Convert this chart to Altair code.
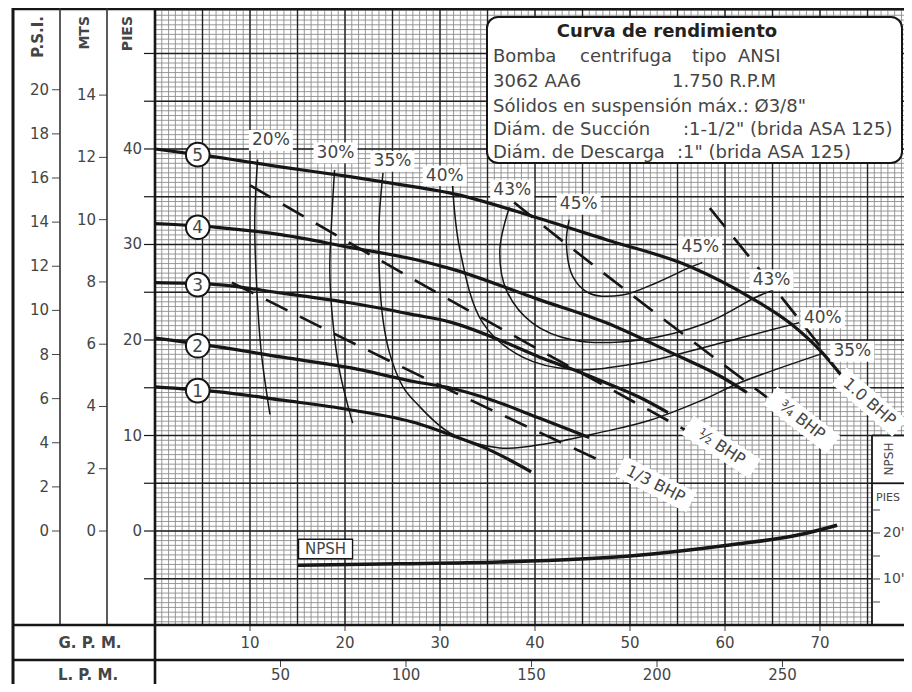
import altair as alt
import numpy as np
import pandas as pd

# ---------------- data ----------------
# Head curves (impeller 1..5): flow in GPM, head in feet
h1_gpm = [0, 6.5, 13.4, 20.5, 27.5, 31.0, 35.2, 39.6]
h1_ft = [15.1, 14.6, 13.7, 12.7, 11.3, 10.1, 8.5, 6.2]
h2_gpm = [0, 6.5, 13.4, 20.5, 27.5, 31.0, 35.5, 40.5, 45.7]
h2_ft = [20.2, 19.3, 18.2, 17.1, 15.6, 15.0, 13.7, 11.8, 9.8]
h3_gpm = [0, 6.5, 13.4, 20.5, 27.5, 31.0, 37.0, 40.5, 44.0, 47.5, 51.0, 54.0]
h3_ft = [26.0, 25.8, 24.9, 23.9, 22.6, 21.9, 19.7, 18.2, 16.9, 15.5, 14.0, 12.4]
h4_gpm = [0, 6.5, 13.4, 20.5, 27.5, 31.0, 40.5, 47.5, 54.5, 59.7, 62.3]
h4_ft = [32.2, 31.8, 31.0, 29.7, 28.4, 27.5, 24.2, 21.8, 18.6, 16.1, 14.5]
h5_gpm = [0, 6.1, 13.4, 20.5, 27.5, 31.0, 40.2, 47.5, 56.3, 62.6, 66.8, 70.3, 72.4]
h5_ft = [40.0, 39.2, 38.1, 37.1, 36.0, 35.4, 32.8, 30.5, 27.7, 24.5, 21.8, 18.6, 16.1]

curve_ids = ["1", "2", "3", "4", "5"]
marker_gpm = [4.5, 4.5, 4.5, 4.5, 4.5]
marker_ft = [14.7, 19.4, 25.8, 31.8, 39.4]

# Efficiency iso-lines
e20_gpm = [10.8, 10.5, 10.7, 11.2, 12.1]
e20_ft = [38.9, 32.6, 25.6, 18.6, 12.2]
e30_gpm = [18.9, 18.6, 18.4, 18.7, 19.4, 20.8]
e30_ft = [37.8, 32.6, 27.3, 22.1, 16.9, 11.3]
e35_gpm = [24.0, 23.6, 23.6, 24.0, 24.7, 26.1, 27.5, 31.0, 36.3, 41.5, 46.8, 52.1, 57.6, 61.5, 70.3]
e35_ft = [37.5, 32.6, 27.3, 22.1, 18.6, 15.1, 13.4, 10.3, 8.7, 9.2, 10.3, 11.6, 13.7, 15.5, 18.6]
e40_gpm = [31.3, 32.1, 34.5, 38.7, 44.0, 51.0, 58.1, 65.0, 67.8]
e40_ft = [36.4, 29.4, 21.8, 18.2, 16.9, 17.6, 19.3, 21.1, 21.8]
e43_gpm = [37.3, 36.3, 37.0, 39.7, 44.0, 51.0, 58.1, 63.3, 65.0]
e43_ft = [33.9, 29.4, 25.2, 21.8, 20.0, 20.0, 21.8, 24.5, 25.2]
e45_gpm = [43.6, 43.3, 44.0, 45.7, 49.2, 52.8, 56.3, 57.6]
e45_ft = [32.6, 30.2, 26.6, 24.9, 24.7, 26.0, 27.6, 28.1]

pct_text = ["20%", "30%", "35%", "40%", "43%", "45%", "45%", "43%", "40%", "35%"]
pct_gpm = [12.2, 19.0, 25.0, 30.5, 37.6, 44.6, 57.4, 64.9, 70.3, 73.4]
pct_ft = [40.9, 39.6, 38.7, 37.2, 35.7, 34.2, 29.7, 26.3, 22.3, 18.8]

# Brake horse-power lines
b13_gpm = [8.1, 30.3, 46.8]
b13_ft = [26.0, 15.1, 7.4]
b12_gpm = [10.0, 29.6, 56.5]
b12_ft = [36.2, 25.0, 10.2]
b34_gpm = [37.8, 41.2, 64.4]
b34_ft = [34.4, 31.7, 14.0]
b10_gpm = [58.4, 62.8, 70.3]
b10_ft = [33.8, 28.4, 19.0]

bhp_text = ["1/3 BHP", "\u00bd BHP", "\u00be BHP", "1.0 BHP"]
bhp_gpm = [52.7, 59.6, 68.1, 75.2]
bhp_ft = [4.9, 8.8, 11.6, 13.5]
bhp_angle = [27, 33, 38, 41]

# NPSH required (feet, right-hand scale)
npsh_gpm = [15.0, 25.7, 36.3, 50.0, 60.5, 67.8, 71.8]
npsh_ft = [13.0, 13.3, 13.7, 15.0, 17.4, 19.6, 21.7]

# Axis tick values
psi_ticks = [0, 2, 4, 6, 8, 10, 12, 14, 16, 18, 20]
mts_ticks = [0, 2, 4, 6, 8, 10, 12, 14]
pies_labels = [0, 10, 20, 30, 40]
pies_ticks = [-5, 0, 5, 10, 15, 20, 25, 30, 35, 40, 45, 50]
gpm_ticks = [10, 20, 30, 40, 50, 60, 70]
lpm_ticks = [50, 100, 150, 200, 250]
npsh_ticks = [5, 10, 15, 20, 25]
npsh_labels = [10, 20]

# ---------------- layout / style ----------------
W, H = 749, 617
XMAX = 78.84
YLO, YHI = -9.84, 54.76
XS = alt.Scale(domain=[0, XMAX], nice=False, zero=False)
YS = alt.Scale(domain=[YLO, YHI], nice=False, zero=False)
YN = alt.Scale(domain=[0, 134.13], nice=False, zero=False)
FONT = "DejaVu Sans"
INK = "#161616"
TXT = "#454545"


def X(f):
    return alt.X(f, type="quantitative", scale=XS, axis=None)


def Y(f):
    return alt.Y(f, type="quantitative", scale=YS, axis=None)


def YNP(f):
    return alt.Y(f, type="quantitative", scale=YN, axis=None)


one = pd.DataFrame({"k": [0]})


def hline(y, x1, x2, w, color=INK):
    return alt.Chart(one).mark_rule(color=color, strokeWidth=w).encode(
        x=alt.value(x1), x2=alt.value(x2), y=alt.value(y))


def vline(x, y1, y2, w, color=INK):
    return alt.Chart(one).mark_rule(color=color, strokeWidth=w).encode(
        x=alt.value(x), y=alt.value(y1), y2=alt.value(y2))


def label(text, x, y, size=18, weight="normal", align="left", angle=0, color=TXT):
    return alt.Chart(one).mark_text(
        text=text, font=FONT, fontSize=size, fontWeight=weight, align=align,
        baseline="middle", angle=angle, color=color).encode(
        x=alt.value(x), y=alt.value(y))


def long_df(pairs, names):
    rows = []
    for name, (gs, fs) in zip(names, pairs):
        for i, (g, f) in enumerate(zip(gs, fs)):
            rows.append({"id": name, "g": g, "f": f, "o": i})
    return pd.DataFrame(rows)


head_df = long_df([(h1_gpm, h1_ft), (h2_gpm, h2_ft), (h3_gpm, h3_ft),
                   (h4_gpm, h4_ft), (h5_gpm, h5_ft)], curve_ids)
eff_df = long_df([(e20_gpm, e20_ft), (e30_gpm, e30_ft), (e35_gpm, e35_ft),
                  (e40_gpm, e40_ft), (e43_gpm, e43_ft), (e45_gpm, e45_ft)],
                 ["20", "30", "35", "40", "43", "45"])
bhp_df = long_df([(b13_gpm, b13_ft), (b12_gpm, b12_ft), (b34_gpm, b34_ft),
                  (b10_gpm, b10_ft)], ["b13", "b12", "b34", "b10"])
pct_df = pd.DataFrame({"t": pct_text, "g": pct_gpm, "f": pct_ft})
bhpl_df = pd.DataFrame({"t": bhp_text, "g": bhp_gpm, "f": bhp_ft, "a": bhp_angle})
mark_df = pd.DataFrame({"t": curve_ids, "g": marker_gpm, "f": marker_ft})
npsh_df = pd.DataFrame({"g": npsh_gpm, "n": npsh_ft})

# ---------------- grid ----------------
minor_v = pd.DataFrame({"g": np.arange(0, XMAX, 5 / 7)})
minor_h = pd.DataFrame({"f": np.arange(-9.5, YHI, 0.5)})
major_v = pd.DataFrame({"g": np.arange(5, XMAX, 5)})
major_h = pd.DataFrame({"f": np.arange(-5, YHI, 5)})

grid = [
    alt.Chart(minor_v).mark_rule(color="#8c8c8c", strokeWidth=0.9).encode(x=X("g")),
    alt.Chart(minor_h).mark_rule(color="#8c8c8c", strokeWidth=0.9).encode(y=Y("f")),
    alt.Chart(major_v).mark_rule(color="#222222", strokeWidth=1.4).encode(x=X("g")),
    alt.Chart(major_h).mark_rule(color="#222222", strokeWidth=1.4).encode(y=Y("f")),
]

# NPSH side panel (white) and the information box
y10 = (YHI - 10) * H / (YHI - YLO)
y5 = (YHI - 5) * H / (YHI - YLO)
panel = [
    alt.Chart(one).mark_rect(fill="white").encode(
        x=alt.value(717), x2=alt.value(W), y=alt.value(y10), y2=alt.value(H)),
    vline(717, y10, H, 1.8),
    hline(y10, 717, W, 1.8),
    hline(y5, 717, W, 1.8),
]
info_box = alt.Chart(one).mark_rect(
    fill="white", stroke=INK, strokeWidth=2, cornerRadius=11).encode(
    x=alt.value(332), x2=alt.value(747), y=alt.value(9), y2=alt.value(155))

# ---------------- curves ----------------
eff_lines = alt.Chart(eff_df).mark_line(
    color=INK, strokeWidth=1.5, interpolate="catmull-rom").encode(
    x=X("g"), y=Y("f"), detail="id:N", order="o:Q")
bhp_lines = alt.Chart(bhp_df).mark_line(
    color=INK, strokeWidth=2.6, strokeDash=[24, 14], interpolate="monotone").encode(
    x=X("g"), y=Y("f"), detail="id:N", order="o:Q")
head_lines = alt.Chart(head_df).mark_line(
    color=INK, strokeWidth=3.2, interpolate="monotone").encode(
    x=X("g"), y=Y("f"), detail="id:N", order="o:Q")

pct_bg = alt.Chart(pct_df).mark_point(
    shape="M-1,-0.47H1V0.47H-1Z", size=1936, filled=True, fill="white",
    opacity=1, strokeWidth=0).encode(x=X("g"), y=Y("f"))
pct_txt = alt.Chart(pct_df).mark_text(
    font=FONT, fontSize=17, color=TXT, baseline="middle").encode(
    x=X("g"), y=Y("f"), text="t:N")

bhp_bg = alt.Chart(bhpl_df).mark_point(
    shape="M-1,-0.28H1V0.28H-1Z", size=6400, filled=True, fill="white",
    opacity=1, strokeWidth=0).encode(
    x=X("g"), y=Y("f"), angle=alt.Angle("a:Q", scale=None))
bhp_txt = alt.Chart(bhpl_df).mark_text(
    font=FONT, fontSize=16, color=TXT, baseline="middle").encode(
    x=X("g"), y=Y("f"), text="t:N", angle=alt.Angle("a:Q", scale=None))

markers = alt.Chart(mark_df).mark_point(
    shape="circle", size=560, filled=True, fill="white", stroke=INK,
    strokeWidth=2, opacity=1).encode(x=X("g"), y=Y("f"))
marker_txt = alt.Chart(mark_df).mark_text(
    font=FONT, fontSize=17, color=TXT, baseline="middle", dy=1).encode(
    x=X("g"), y=Y("f"), text="t:N")

# NPSH label box on the plot
npsh_box = alt.Chart(pd.DataFrame({"g": [17.95], "f": [-1.88]})).mark_point(
    shape="M-1,-0.36H1V0.36H-1Z", size=2916, filled=True, fill="white",
    stroke=INK, strokeWidth=1.4, opacity=1).encode(x=X("g"), y=Y("f"))
npsh_box_txt = alt.Chart(pd.DataFrame({"g": [17.95], "f": [-1.88]})).mark_text(
    text="NPSH", font=FONT, fontSize=15, color=TXT, baseline="middle").encode(
    x=X("g"), y=Y("f"))

# ---------------- left scales (P.S.I., MTS, PIES) ----------------
psi = alt.Chart(pd.DataFrame({"v": psi_ticks})).transform_calculate(ft="datum.v * 2.31")
mts = alt.Chart(pd.DataFrame({"v": mts_ticks})).transform_calculate(ft="datum.v * 3.26")
pies_l = alt.Chart(pd.DataFrame({"v": pies_labels}))
pies_t = alt.Chart(pd.DataFrame({"v": pies_ticks}))

left = [
    psi.mark_text(font=FONT, fontSize=15, color=TXT, align="right", baseline="middle").encode(
        x=alt.value(-106), y=Y("ft"), text=alt.Text("v:Q", format="d")),
    psi.mark_rule(color=TXT, strokeWidth=1).encode(x=alt.value(-103), x2=alt.value(-95), y=Y("ft")),
    mts.mark_text(font=FONT, fontSize=15, color=TXT, align="right", baseline="middle").encode(
        x=alt.value(-59), y=Y("ft"), text=alt.Text("v:Q", format="d")),
    mts.mark_rule(color=TXT, strokeWidth=1).encode(x=alt.value(-56), x2=alt.value(-48), y=Y("ft")),
    pies_l.mark_text(font=FONT, fontSize=15, color=TXT, align="right", baseline="middle").encode(
        x=alt.value(-13), y=Y("v"), text=alt.Text("v:Q", format="d")),
    pies_t.mark_rule(color=INK, strokeWidth=1.2).encode(x=alt.value(-11), x2=alt.value(0), y=Y("v")),
    label("P.S.I.", -117, 8, size=15, weight="bold", align="right", angle=270),
    label("MTS", -70, 8, size=14, weight="bold", align="right", angle=270),
    label("PIES", -27, 8, size=14, weight="bold", align="right", angle=270),
]

# ---------------- bottom scales (G.P.M., L.P.M.) ----------------
gpm = alt.Chart(pd.DataFrame({"v": gpm_ticks}))
lpm = alt.Chart(pd.DataFrame({"v": lpm_ticks})).transform_calculate(g="datum.v / 3.785")
bottom = [
    gpm.mark_text(font=FONT, fontSize=15, color=TXT, baseline="middle").encode(
        x=X("v"), y=alt.value(635), text=alt.Text("v:Q", format="d")),
    gpm.mark_rule(color=TXT, strokeWidth=1).encode(x=X("v"), y=alt.value(H), y2=alt.value(H + 6)),
    lpm.mark_text(font=FONT, fontSize=15, color=TXT, baseline="middle").encode(
        x=X("g"), y=alt.value(667), text=alt.Text("v:Q", format="d")),
    lpm.mark_rule(color=TXT, strokeWidth=1).encode(x=X("g"), y=alt.value(652), y2=alt.value(659)),
    label("G. P. M.", -65, 635, size=15, weight="bold", align="center"),
    label("L. P. M.", -67, 667, size=15, weight="bold", align="center"),
]

# ---------------- frame ----------------
frame = [
    hline(1, -142, W, 2.6),
    vline(-142, 0, 676, 3),
    vline(-95, 0, H, 1.6, "#333333"),
    vline(-48, 0, H, 1.6, "#333333"),
    vline(0, 0, 676, 2.6),
    hline(H, -142, W, 2.6),
    hline(652, -142, W, 2.4),
]

# ---------------- information box text ----------------
info = [
    label("Curva de rendimiento", 512, 24, size=18, weight="bold", align="center", color="#222222"),
    label("Bomba", 338, 49), label("centrifuga", 425, 49), label("tipo", 537, 49), label("ANSI", 583, 49),
    label("3062 AA6", 338, 74), label("1.750 R.P.M", 517, 74),
    label("S\u00f3lidos en suspensi\u00f3n m\u00e1x.: \u00d83/8\"", 338, 99),
    label("Di\u00e1m. de Succi\u00f3n", 338, 122), label(":1-1/2\" (brida ASA 125)", 528, 122),
    label("Di\u00e1m. de Descarga", 338, 145), label(":1\" (brida ASA 125)", 522, 145),
]

main = alt.layer(
    *grid, *panel, info_box,
    eff_lines, bhp_lines, head_lines,
    pct_bg, pct_txt, bhp_bg, bhp_txt,
    markers, marker_txt, npsh_box, npsh_box_txt,
    *left, *bottom, *frame, *info,
)

# ---------------- NPSH (own scale, right panel) ----------------
npsh_t = alt.Chart(pd.DataFrame({"n": npsh_ticks}))
npsh_l = alt.Chart(pd.DataFrame({"n": npsh_labels})).transform_calculate(
    lbl="datum.n + \"'\"")
npsh_layer = alt.layer(
    alt.Chart(npsh_df).mark_line(color=INK, strokeWidth=3.6, interpolate="monotone").encode(
        x=X("g"), y=YNP("n")),
    npsh_t.mark_rule(color=TXT, strokeWidth=1).encode(x=alt.value(717), x2=alt.value(725), y=YNP("n")),
    npsh_l.mark_text(font=FONT, fontSize=14, color=TXT, align="left", baseline="middle").encode(
        x=alt.value(728), y=YNP("n"), text="lbl:N"),
    label("PIES", 733, 490, size=11, align="center"),
    label("NPSH", 734, 451, size=12, align="center", angle=270),
)

chart = alt.layer(main, npsh_layer).resolve_scale(y="independent").properties(
    width=W, height=H,
    padding={"left": 147, "top": 0, "right": 0, "bottom": 59},
    autosize=alt.AutoSizeParams(type="none"),
    background="white",
).configure_view(stroke=None)

chart.save("out.html", embed_options={"renderer": "svg", "actions": False})
